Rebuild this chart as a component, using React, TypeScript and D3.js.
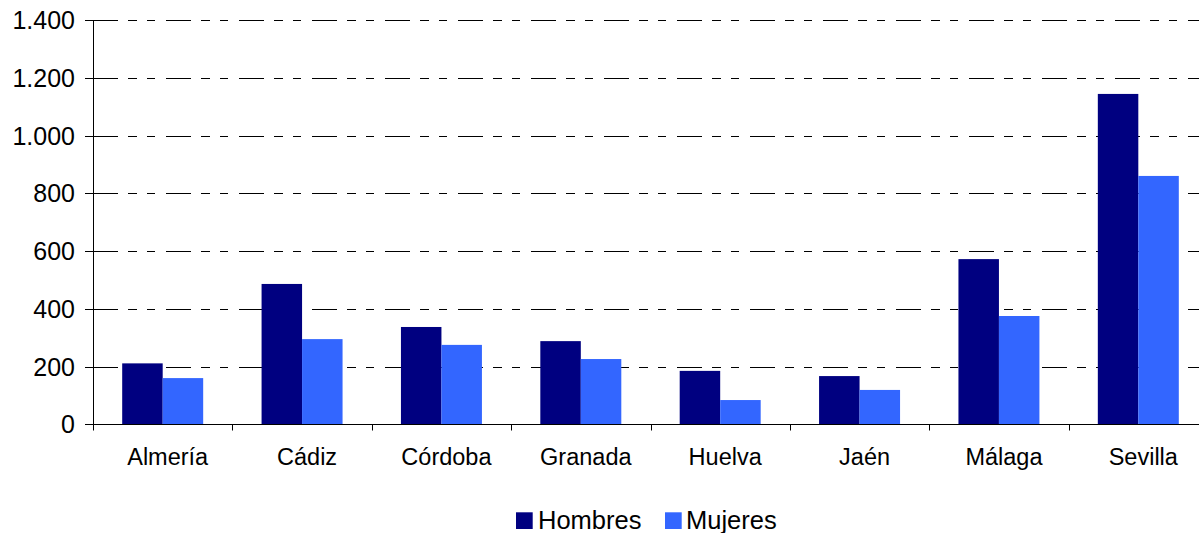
import React from "react";
import * as d3 from "d3";

const categories = ["Almería", "Cádiz", "Córdoba", "Granada", "Huelva", "Jaén", "Málaga", "Sevilla"];
const hombres = [211, 486, 337, 288, 185, 167, 572, 1144];
const mujeres = [160, 295, 275, 226, 84, 119, 375, 860];
const seriesNames = ["Hombres", "Mujeres"];
const seriesColors = ["#000080", "#3366FF"];
const yTicks = [0, 200, 400, 600, 800, 1000, 1200, 1400];

const W = 1199;
const H = 533;
const FONT = "'Liberation Sans', Arial, sans-serif";

const fmt = (v: number) => {
  const s = String(v);
  return s.length > 3 ? s.slice(0, s.length - 3) + "." + s.slice(s.length - 3) : s;
};

export default function App() {
  const left = 93;
  const right = 1208;
  const y0 = 424.3;
  const yTop = 20;

  const x = d3.scaleBand<string>().domain(categories).range([left, right]).paddingInner(0).paddingOuter(0);
  const inner = d3.scaleBand<string>().domain(seriesNames).range([0, x.bandwidth()]).paddingInner(0).paddingOuter(0.721);
  const y = d3.scaleLinear().domain([0, 1400]).range([y0, yTop]);
  const py = (v: number) => Math.round(y(v)) + 0.5;

  const data = [hombres, mujeres];

  return (
    <svg width={W} height={H} style={{ position: "absolute", left: 0, top: 0, background: "#fff" }} fontFamily={FONT}>
      {/* gridlines */}
      {yTicks.filter((t) => t > 0).map((t) => (
        <line key={"g" + t} x1={left} x2={right} y1={py(t)} y2={py(t)} stroke="#000" strokeWidth={1}
          strokeDasharray="25,10,9,10,8,11" />
      ))}
      {/* bars */}
      {categories.map((c, i) => (
        <g key={c}>
          {seriesNames.map((s, k) => {
            const bx = (x(c) as number) + (inner(s) as number);
            return (
              <rect key={s} x={bx} y={y(data[k][i])} width={inner.bandwidth()} height={y(0) - y(data[k][i])}
                fill={seriesColors[k]} />
            );
          })}
        </g>
      ))}
      {/* y axis */}
      <line x1={left + 0.5} x2={left + 0.5} y1={yTop} y2={py(0)} stroke="#000" />
      {yTicks.map((t) => (
        <g key={"y" + t}>
          <line x1={left - 8} x2={left} y1={py(t)} y2={py(t)} stroke="#000" />
          <text x={75} y={y(t)} dy="0.36em" textAnchor="end" fontSize={25} fill="#000">{fmt(t)}</text>
        </g>
      ))}
      {/* x axis */}
      <line x1={left} x2={right} y1={py(0)} y2={py(0)} stroke="#000" />
      {d3.range(categories.length + 1).map((i) => {
        const xx = Math.round(left + i * x.bandwidth()) + 0.5;
        return <line key={"xt" + i} x1={xx} x2={xx} y1={py(0)} y2={py(0) + 6} stroke="#000" />;
      })}
      {categories.map((c) => (
        <text key={"xl" + c} x={(x(c) as number) + x.bandwidth() / 2 + 5} y={465} textAnchor="middle" fontSize={23.5} fill="#000">{c}</text>
      ))}
      {/* legend */}
      <rect x={516} y={512.3} width={16.7} height={16.7} fill={seriesColors[0]} />
      <text x={538} y={529} fontSize={25.5} fill="#000">{seriesNames[0]}</text>
      <rect x={665} y={512.3} width={16.7} height={16.7} fill={seriesColors[1]} />
      <text x={686} y={529} fontSize={25.5} fill="#000">{seriesNames[1]}</text>
    </svg>
  );
}
